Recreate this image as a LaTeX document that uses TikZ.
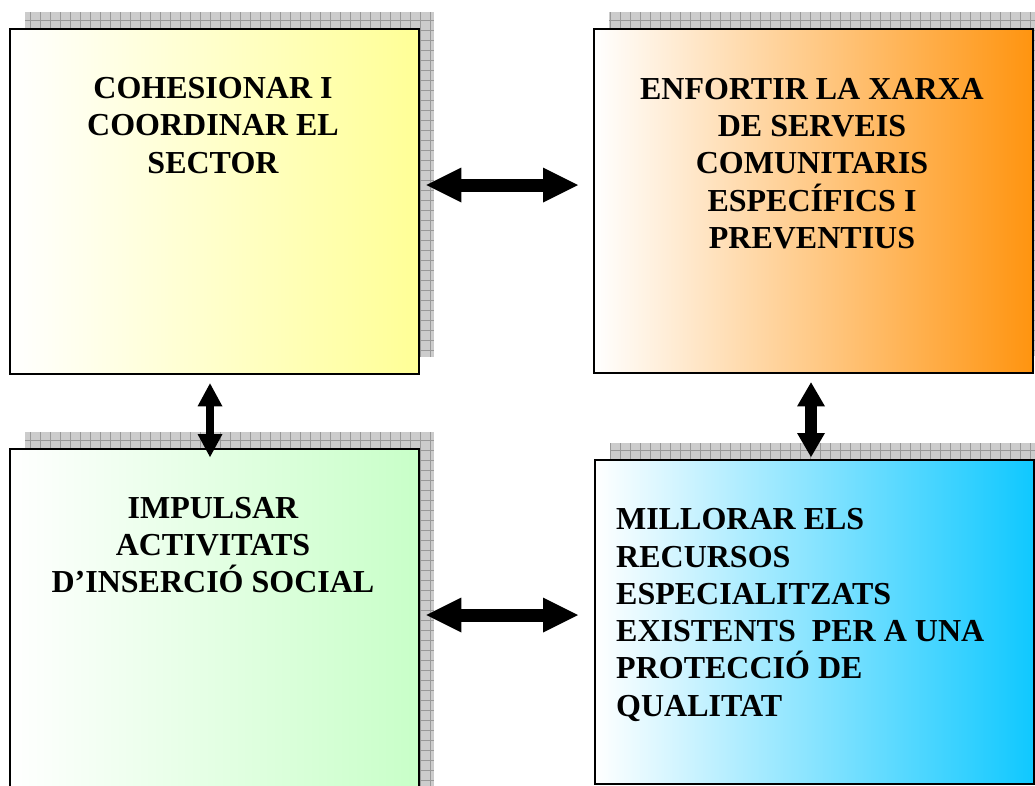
\documentclass[tikz,border=0pt]{standalone}
\usepackage{fontspec}
\setmainfont{Liberation Serif}
\usetikzlibrary{arrows.meta}
\definecolor{cyel}{RGB}{255,255,150}
\definecolor{cora}{RGB}{255,148,15}
\definecolor{cgrn}{RGB}{200,255,200}
\definecolor{cblu}{RGB}{15,200,255}
\newcommand\gridshadow[4]{%
  \fill[shadowfill] (#1,#2) rectangle (#3,#4);
  \begin{scope}
    \clip (#1,#2) rectangle (#3,#4);
    \draw[shadowgrid] (#1,#2) grid (#3,#4);
  \end{scope}}
\begin{document}
\begin{tikzpicture}[x=1pt,y=-1pt,
  shadowfill/.style={fill=gray!40},
  shadowgrid/.style={draw=gray!80,line width=0.7pt,step=10pt},
  box/.style={draw=black,line width=2.4pt,rectangle,anchor=north west,inner sep=0pt},
  lbl/.style={font=\fontsize{32}{37.3}\selectfont\bfseries,inner sep=0pt},
  harr/.style={draw=black,line width=13pt,
    {Triangle[width=35pt 0,length=35pt 0,line width=0pt 0]}-{Triangle[width=35pt 0,length=35pt 0,line width=0pt 0]}},
  varrA/.style={draw=black,line width=8pt,
    {Triangle[width=25pt 0,length=23pt 0,line width=0pt 0]}-{Triangle[width=25pt 0,length=23pt 0,line width=0pt 0]}},
  varrB/.style={draw=black,line width=12pt,
    {Triangle[width=28pt 0,length=24pt 0,line width=0pt 0]}-{Triangle[width=28pt 0,length=24pt 0,line width=0pt 0]}}
]
\useasboundingbox (0,0) rectangle (1035,785);
% shadows
\gridshadow{25}{12}{434}{357}
\gridshadow{609}{12}{1048}{356}
\gridshadow{25}{432}{434}{800}
\gridshadow{610}{443}{1049}{767}
% boxes
\node[box,left color=white,right color=cyel,minimum width=409pt,minimum height=345pt] (b1) at (9,28) {};
\node[box,left color=white,right color=cora,minimum width=439pt,minimum height=344pt] (b2) at (593,28) {};
\node[box,left color=white,right color=cgrn,minimum width=409pt,minimum height=352pt] (b3) at (9,448) {};
\node[box,left color=white,right color=cblu,minimum width=439pt,minimum height=324pt] (b4) at (594,459) {};
% texts
\node[lbl,align=center] (t1) at (213,125.5) {COHESIONAR I\\COORDINAR EL\\SECTOR};
\node[lbl,align=center] (t2) at (812,163.5) {ENFORTIR LA XARXA\\DE SERVEIS\\COMUNITARIS\\ESPECÍFICS I\\PREVENTIUS};
\node[lbl,align=center] (t3) at (213,545) {IMPULSAR\\ACTIVITATS\\D’INSERCIÓ SOCIAL};
\node[lbl,align=left,anchor=west] (t4) at (616,615) {MILLORAR ELS\\RECURSOS\\ESPECIALITZATS\\EXISTENTS~ PER A UNA\\PROTECCIÓ DE\\QUALITAT};
% arrows
\draw[harr,shorten <=6pt,shorten >=15pt] (b1.east |- 0,185) -- (b2.west |- 0,185);
\draw[harr,shorten <=6pt,shorten >=16pt] (b3.east |- 0,615) -- (b4.west |- 0,615);
\draw[varrA,shorten <=8pt,shorten >=-9pt] (b1.south -| 210,0) -- (b3.north -| 210,0);
\draw[varrB,shorten <=8pt,shorten >=2pt] (b2.south -| 811,0) -- (b4.north -| 811,0);
\end{tikzpicture}
\end{document}
